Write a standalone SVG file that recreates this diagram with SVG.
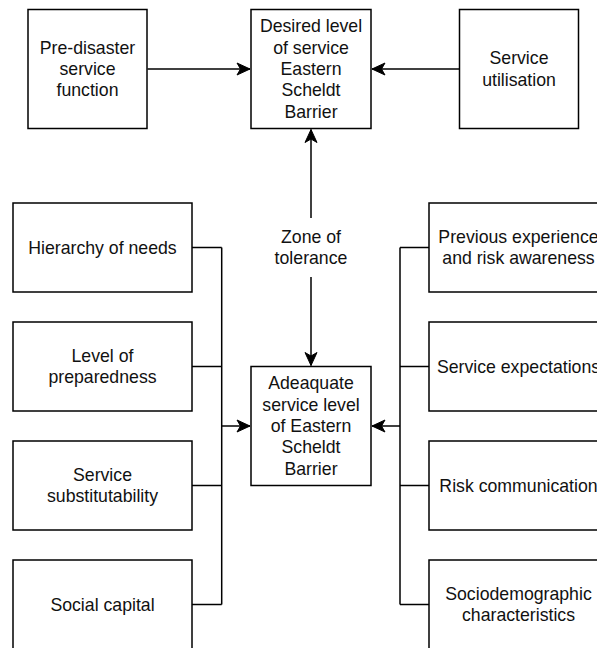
<svg xmlns="http://www.w3.org/2000/svg" width="597" height="648" viewBox="0 0 597 648">
  <style>
    .box { fill: #ffffff; stroke: #000000; stroke-width: 1.5; }
    .wire { fill: none; stroke: #000000; stroke-width: 1.5; }
    .lbl { font-family: "Liberation Sans", Arial, Helvetica, sans-serif; font-size: 17.7px; fill: #111111; text-anchor: middle; dominant-baseline: central; }
  </style>
  <defs>
    <marker id="arrow" markerUnits="userSpaceOnUse" markerWidth="16" markerHeight="16" viewBox="-14 -8 16 16" refX="0" refY="0" orient="auto">
      <path d="M0,0 L-13,-6 L-9.5,0 L-13,6 Z" fill="#000000" stroke="#000000" stroke-width="1"/>
    </marker>
  </defs>

  <rect width="597" height="648" fill="#ffffff"/>

  <!-- connectors -->
  <g id="connectors">
    <line class="wire" x1="147.5" y1="69" x2="250" y2="69" marker-end="url(#arrow)"/>
    <line class="wire" x1="459.5" y1="69" x2="372" y2="69" marker-end="url(#arrow)"/>
    <line class="wire" x1="311" y1="218" x2="311" y2="129.5" marker-end="url(#arrow)"/>
    <line class="wire" x1="311" y1="277" x2="311" y2="365.5" marker-end="url(#arrow)"/>
    <!-- left collector -->
    <path class="wire" d="M192,247.5 H221.7 M192,366.5 H221.7 M192,485.5 H221.7 M192,604.5 H221.7 M221.7,247.5 V604.5"/>
    <line class="wire" x1="221.7" y1="426" x2="250" y2="426" marker-end="url(#arrow)"/>
    <!-- right collector -->
    <path class="wire" d="M429,247.5 H400 M429,366.5 H400 M429,485.5 H400 M429,604.5 H400 M400,247.5 V604.5"/>
    <line class="wire" x1="400" y1="426" x2="372" y2="426" marker-end="url(#arrow)"/>
  </g>

  <g id="pre-disaster">
    <rect class="box" x="28" y="9.5" width="119" height="119"/>
    <text class="lbl" x="87.5"><tspan x="87.5" y="47.6">Pre-disaster</tspan><tspan x="87.5" y="69">service</tspan><tspan x="87.5" y="90.4">function</tspan></text>
  </g>

  <g id="desired-level">
    <rect class="box" x="251" y="9.5" width="120" height="119"/>
    <text class="lbl"><tspan x="311" y="26.2">Desired level</tspan><tspan x="311" y="47.6">of service</tspan><tspan x="311" y="69">Eastern</tspan><tspan x="311" y="90.4">Scheldt</tspan><tspan x="311" y="111.8">Barrier</tspan></text>
  </g>

  <g id="service-utilisation">
    <rect class="box" x="459.5" y="9.5" width="119" height="119"/>
    <text class="lbl"><tspan x="519" y="58.3">Service</tspan><tspan x="519" y="79.7">utilisation</tspan></text>
  </g>

  <g id="zone-of-tolerance">
    <text class="lbl"><tspan x="311" y="236.8">Zone of</tspan><tspan x="311" y="258.2">tolerance</tspan></text>
  </g>

  <g id="adequate-level">
    <rect class="box" x="251" y="366.5" width="120" height="119"/>
    <text class="lbl"><tspan x="311" y="383.2">Adeaquate</tspan><tspan x="311" y="404.6">service level</tspan><tspan x="311" y="426">of Eastern</tspan><tspan x="311" y="447.4">Scheldt</tspan><tspan x="311" y="468.8">Barrier</tspan></text>
  </g>

  <g id="hierarchy-of-needs">
    <rect class="box" x="13" y="203" width="179" height="89"/>
    <text class="lbl" x="102.5" y="247.5">Hierarchy of needs</text>
  </g>

  <g id="level-of-preparedness">
    <rect class="box" x="13" y="322" width="179" height="89"/>
    <text class="lbl"><tspan x="102.5" y="355.8">Level of</tspan><tspan x="102.5" y="377.2">preparedness</tspan></text>
  </g>

  <g id="service-substitutability">
    <rect class="box" x="13" y="441" width="179" height="89"/>
    <text class="lbl"><tspan x="102.5" y="474.8">Service</tspan><tspan x="102.5" y="496.2">substitutability</tspan></text>
  </g>

  <g id="social-capital">
    <rect class="box" x="13" y="560" width="179" height="89"/>
    <text class="lbl" x="102.5" y="604.5">Social capital</text>
  </g>

  <g id="previous-experience">
    <rect class="box" x="429" y="203" width="179" height="89"/>
    <text class="lbl"><tspan x="518.5" y="236.8">Previous experience</tspan><tspan x="518.5" y="258.2">and risk awareness</tspan></text>
  </g>

  <g id="service-expectations">
    <rect class="box" x="429" y="322" width="179" height="89"/>
    <text class="lbl" x="518.5" y="366.5">Service expectations</text>
  </g>

  <g id="risk-communication">
    <rect class="box" x="429" y="441" width="179" height="89"/>
    <text class="lbl" x="518.5" y="485.5">Risk communication</text>
  </g>

  <g id="sociodemographic">
    <rect class="box" x="429" y="560" width="179" height="89"/>
    <text class="lbl"><tspan x="518.5" y="593.8">Sociodemographic</tspan><tspan x="518.5" y="615.2">characteristics</tspan></text>
  </g>
</svg>
